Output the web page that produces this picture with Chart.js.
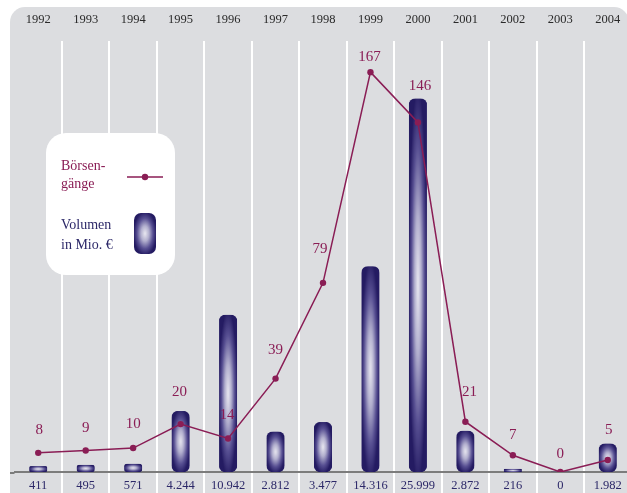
<!DOCTYPE html>
<html>
<head>
<meta charset="utf-8">
<script src="https://cdn.jsdelivr.net/npm/chart.js@4/dist/chart.umd.min.js"></script>
<style>
  html, body { margin: 0; padding: 0; background: #ffffff; overflow: hidden; }
  canvas { display: block; }
</style>
</head>
<body>
<canvas id="chart" width="640" height="493"></canvas>
<script>
// Börsengänge und Emissionsvolumen je Jahr
const years = ['1992', '1993', '1994', '1995', '1996', '1997', '1998', '1999', '2000', '2001', '2002', '2003', '2004'];
const volumeMio = [411, 495, 571, 4244, 10942, 2812, 3477, 14316, 25999, 2872, 216, 0, 1982];
const volumeLabels = ['411', '495', '571', '4.244', '10.942', '2.812', '3.477', '14.316', '25.999', '2.872', '216', '0', '1.982'];
const ipoCount = [8, 9, 10, 20, 14, 39, 79, 167, 146, 21, 7, 0, 5];

const FONT = "'Liberation Serif', 'Times New Roman', serif";
const NAVY = '#241b62';
const MAGENTA = '#8a1d55';
const PANEL = '#dcdde0';
const BAR_W = 18;

// Elliptical glow fill for a capsule of size w x h placed at (left, top)
function glowPattern(ctx, w, h, left, top) {
  const off = document.createElement('canvas');
  off.width = Math.max(1, Math.ceil(w));
  off.height = Math.max(1, Math.ceil(h));
  const g = off.getContext('2d');
  g.fillStyle = NAVY;
  g.fillRect(0, 0, off.width, off.height);
  g.save();
  g.translate(w / 2, h / 2);
  g.scale(1, Math.max(h, 1) / w * 1.02);
  const grad = g.createRadialGradient(0, 0, 0, 0, 0, w / 2 * 1.04);
  grad.addColorStop(0, '#e8e7f0');
  grad.addColorStop(0.35, '#b2afce');
  grad.addColorStop(0.7, '#574f92');
  grad.addColorStop(1, NAVY);
  g.fillStyle = grad;
  g.fillRect(-w, -w * 2, w * 2, w * 4);
  g.restore();
  const p = ctx.createPattern(off, 'no-repeat');
  p.setTransform(new DOMMatrix().translateSelf(left, top));
  return p;
}

function barFill(c) {
  if (c.type !== 'data') return NAVY;
  const ch = c.chart;
  const xs = ch.scales.x, ys = ch.scales.yVol;
  if (!xs || !ys || !ch.chartArea) return NAVY;
  const cx = xs.getPixelForValue(c.dataIndex);
  const top = ys.getPixelForValue(c.raw);
  const base = ys.getPixelForValue(0);
  const h = base - top;
  if (!(h > 0)) return NAVY;
  return glowPattern(ch.ctx, BAR_W, h, cx - BAR_W / 2, top);
}

function roundRect(ctx, x, y, w, h, r) {
  ctx.beginPath();
  ctx.moveTo(x + r, y);
  ctx.arcTo(x + w, y, x + w, y + h, r);
  ctx.arcTo(x + w, y + h, x, y + h, r);
  ctx.arcTo(x, y + h, x, y, r);
  ctx.arcTo(x, y, x + w, y, r);
  ctx.closePath();
}

// Grey rounded panel behind the plot
const panelPlugin = {
  id: 'panel',
  beforeDraw(chart) {
    const ctx = chart.ctx;
    ctx.save();
    ctx.fillStyle = '#ffffff';
    ctx.fillRect(0, 0, chart.width, chart.height);
    ctx.fillStyle = PANEL;
    roundRect(ctx, 10, 7, 619, 500, 15);
    ctx.fill();
    // baseline continues to the panel edge
    ctx.strokeStyle = '#7c7c7c';
    ctx.lineWidth = 2;
    ctx.beginPath();
    ctx.moveTo(10, chart.chartArea.bottom + 1);
    ctx.lineTo(chart.chartArea.left, chart.chartArea.bottom + 1);
    ctx.stroke();
    ctx.restore();
  }
};

// Value labels above the IPO count points
const countLabelPlugin = {
  id: 'countLabels',
  afterDatasetsDraw(chart, args, opts) {
    const meta = chart.getDatasetMeta(1);
    const ctx = chart.ctx;
    ctx.save();
    ctx.font = '15px ' + FONT;
    ctx.fillStyle = MAGENTA;
    ctx.textAlign = 'center';
    ctx.textBaseline = 'middle';
    meta.data.forEach((pt, i) => {
      ctx.fillText(String(ipoCount[i]), pt.x + (opts.dx[i] || 0), pt.y + opts.dy[i]);
    });
    ctx.restore();
  }
};

// Legend card
const legendCardPlugin = {
  id: 'legendCard',
  afterDatasetsDraw(chart) {
    const ctx = chart.ctx;
    ctx.save();
    ctx.fillStyle = '#ffffff';
    roundRect(ctx, 46, 133, 129, 142, 20);
    ctx.fill();

    ctx.font = '14px ' + FONT;
    ctx.textAlign = 'left';
    ctx.textBaseline = 'middle';
    ctx.fillStyle = MAGENTA;
    ctx.fillText('Börsen-', 61, 166);
    ctx.fillText('gänge', 61, 184);

    ctx.strokeStyle = MAGENTA;
    ctx.lineWidth = 1.5;
    ctx.beginPath();
    ctx.moveTo(127, 177);
    ctx.lineTo(163, 177);
    ctx.stroke();
    ctx.beginPath();
    ctx.arc(145, 177, 3.2, 0, Math.PI * 2);
    ctx.fill();

    ctx.fillStyle = '#2c2868';
    ctx.fillText('Volumen', 61, 225);
    ctx.fillText('in Mio. €', 61, 245);

    ctx.fillStyle = glowPattern(ctx, 22, 41, 134, 213);
    roundRect(ctx, 134, 213, 22, 41, 7);
    ctx.fill();
    ctx.restore();
  }
};

const gridColor = (c) => (c.index === 0 ? 'rgba(0,0,0,0)' : '#ffffff');

new Chart(document.getElementById('chart'), {
  type: 'bar',
  data: {
    labels: years,
    datasets: [
      {
        type: 'bar',
        label: 'Volumen in Mio. €',
        data: volumeMio,
        yAxisID: 'yVol',
        order: 1,
        barThickness: BAR_W,
        borderRadius: 7,
        borderSkipped: false,
        borderWidth: 0,
        backgroundColor: barFill
      },
      {
        type: 'line',
        label: 'Börsengänge',
        data: ipoCount,
        yAxisID: 'yIpo',
        order: 0,
        borderColor: MAGENTA,
        borderWidth: 1.5,
        pointRadius: 3.2,
        pointBackgroundColor: MAGENTA,
        pointBorderWidth: 0,
        tension: 0
      }
    ]
  },
  options: {
    responsive: false,
    animation: false,
    events: [],
    layout: { padding: { left: 14.5, right: 8.5, top: 0, bottom: 0 } },
    plugins: {
      legend: { display: false },
      tooltip: { enabled: false },
      countLabels: {
        dy: [-23, -22, -24, -32, -23, -29, -34, -15, -36, -30, -20, -18, -30],
        dx: [1, 0, 0, -1, -1, 0, -3, -1, 2, 4, 0, 0, 1]
      }
    },
    scales: {
      x: {
        type: 'category',
        position: 'bottom',
        offset: true,
        grid: {
          offset: true,
          drawTicks: true,
          tickLength: 21,
          lineWidth: 2,
          tickWidth: 2,
          color: gridColor,
          tickColor: gridColor
        },
        border: { display: true, color: '#7c7c7c', width: 2 },
        ticks: {
          padding: -14.5,
          autoSkip: false,
          maxRotation: 0,
          color: '#2c2868',
          font: { family: FONT, size: 12.5 },
          callback: (v, i) => volumeLabels[i]
        },
        afterFit: (s) => { s.height = 21; }
      },
      xTop: {
        type: 'category',
        labels: years,
        position: 'top',
        offset: true,
        grid: { display: false, drawTicks: false },
        border: { display: false },
        ticks: {
          padding: 14,
          autoSkip: false,
          maxRotation: 0,
          color: '#2a2a2a',
          font: { family: FONT, size: 12.5 }
        },
        afterFit: (s) => { s.height = 41; }
      },
      yVol: {
        display: false,
        min: 0,
        max: 30000
      },
      yIpo: {
        display: false,
        min: 0,
        max: 180
      }
    }
  },
  plugins: [panelPlugin, countLabelPlugin, legendCardPlugin]
});
</script>
</body>
</html>
